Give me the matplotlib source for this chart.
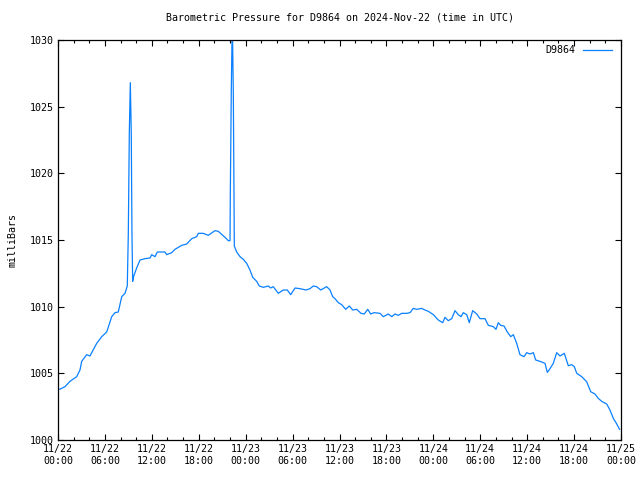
import matplotlib
matplotlib.use("Agg")
import matplotlib.pyplot as plt
import numpy as np

# hours since 2024-11-22 00:00 UTC
hours = [0.2, 0.9, 1.53, 2.39, 2.81, 3.03, 3.67, 4.09, 4.95, 5.59, 6.23, 6.87, 7.29, 7.71,
         8.15, 8.57, 8.86, 8.99, 9.12, 9.25, 9.37, 9.46, 9.55, 9.63, 10.06, 10.49, 11.13,
         11.77, 11.98, 12.41, 12.70, 13.68, 13.90, 14.54, 14.96, 15.82, 16.46, 17.10,
         17.74, 17.94, 18.58, 19.22, 20.08, 20.50, 21.36, 21.78, 22.0, 22.04, 22.16,
         22.29, 22.42, 22.51, 22.55, 22.85, 23.28, 23.70, 24.13, 24.55, 24.90, 25.41,
         25.74, 26.26, 26.89, 27.20, 27.53, 28.17, 28.81, 29.32, 29.76, 30.31, 30.95,
         31.72, 32.23, 32.65, 33.08, 33.60, 34.36, 34.79, 35.13, 35.42, 35.85, 36.28,
         36.79, 37.25, 37.69, 38.20, 38.75, 39.17, 39.61, 39.99, 40.41, 41.18, 41.60,
         42.24, 42.68, 43.10, 43.52, 43.96, 44.60, 45.02, 45.44, 45.87, 46.51, 46.93,
         47.36, 48.00, 48.63, 49.20, 49.49, 49.91, 50.35, 50.77, 51.19, 51.54, 51.83,
         52.27, 52.60, 53.03, 53.55, 53.97, 54.61, 55.03, 55.67, 56.01, 56.31, 56.62,
         57.04, 57.46, 57.90, 58.23, 58.66, 59.08, 59.59, 59.94, 60.36, 60.79, 61.09,
         61.64, 62.28, 62.58, 62.92, 63.34, 63.78, 64.20, 64.75, 65.26, 65.70, 66.03,
         66.34, 66.98, 67.61, 68.13, 68.67, 69.10, 69.53, 70.17, 70.59, 71.02, 71.36,
         71.82]
pressure = [1003.8, 1004.0, 1004.4, 1004.75, 1005.25, 1005.9, 1006.4, 1006.3, 1007.25,
            1007.75, 1008.1, 1009.25, 1009.55, 1009.6, 1010.75, 1011.0, 1011.55, 1015.4,
            1023.0, 1026.8, 1023.0, 1015.4, 1011.9, 1012.2, 1012.9, 1013.5, 1013.6,
            1013.65, 1013.9, 1013.75, 1014.1, 1014.1, 1013.9, 1014.05, 1014.3, 1014.6,
            1014.7, 1015.1, 1015.25, 1015.5, 1015.5, 1015.35, 1015.7, 1015.65, 1015.2,
            1014.95, 1014.95, 1018.6, 1026.1, 1031.5, 1026.1, 1018.4, 1014.55, 1014.1,
            1013.75, 1013.55, 1013.25, 1012.75, 1012.2, 1011.9, 1011.55, 1011.45,
            1011.55, 1011.4, 1011.5, 1011.0, 1011.25, 1011.25, 1010.9, 1011.4, 1011.35,
            1011.25, 1011.35, 1011.55, 1011.5, 1011.25, 1011.5, 1011.25, 1010.75,
            1010.6, 1010.3, 1010.15, 1009.8, 1010.05, 1009.75, 1009.8, 1009.5, 1009.45,
            1009.8, 1009.45, 1009.55, 1009.5, 1009.25, 1009.45, 1009.25, 1009.45,
            1009.35, 1009.5, 1009.5, 1009.55, 1009.87, 1009.8, 1009.87, 1009.75,
            1009.65, 1009.4, 1009.0, 1008.8, 1009.2, 1008.95, 1009.1, 1009.7, 1009.4,
            1009.25, 1009.55, 1009.4, 1008.8, 1009.7, 1009.45, 1009.1, 1009.1, 1008.6,
            1008.5, 1008.3, 1008.8, 1008.6, 1008.55, 1008.1, 1007.75, 1007.9, 1007.25,
            1006.4, 1006.25, 1006.55, 1006.45, 1006.55, 1006.0, 1005.9, 1005.75,
            1005.07, 1005.35, 1005.75, 1006.55, 1006.3, 1006.5, 1005.57, 1005.65,
            1005.5, 1005.0, 1004.75, 1004.37, 1003.62, 1003.45, 1003.12, 1002.9,
            1002.7, 1002.25, 1001.62, 1001.3, 1000.8]

xtick_hours = list(range(0, 73, 6))
xtick_labels = ["11/22\n00:00", "11/22\n06:00", "11/22\n12:00", "11/22\n18:00",
                "11/23\n00:00", "11/23\n06:00", "11/23\n12:00", "11/23\n18:00",
                "11/24\n00:00", "11/24\n06:00", "11/24\n12:00", "11/24\n18:00",
                "11/25\n00:00"]
ytick_vals = [1000, 1005, 1010, 1015, 1020, 1025, 1030]

plt.rcParams['font.family'] = ['DejaVu Sans Mono']
FS = 7.2

fig = plt.figure(figsize=(6.4, 4.8), dpi=100)
ax = fig.add_axes([58/640, 1-440/480, (621-58)/640, 400/480])
ax.plot(hours, pressure, color='#0a80ff', lw=0.9, label='D9864')
ax.set_xlim(0, 72)
ax.set_ylim(1000, 1030)
ax.set_xticks(xtick_hours)
ax.set_xticklabels(xtick_labels, fontsize=FS)
ax.set_xticks(np.arange(0, 73, 2), minor=True)
ax.set_yticks(ytick_vals)
ax.set_yticklabels([str(v) for v in ytick_vals], fontsize=FS)
ax.tick_params(which='both', direction='in', top=True, right=True, width=0.8, colors='black')
ax.tick_params(which='major', length=4.5, pad=3)
ax.tick_params(which='minor', length=2.3)
for s in ax.spines.values():
    s.set_linewidth(0.9)
ax.set_title('Barometric Pressure for D9864 on 2024-Nov-22 (time in UTC)', fontsize=FS, pad=14)
ax.set_ylabel('milliBars', fontsize=FS, labelpad=9)
leg = ax.legend(loc='upper right', bbox_to_anchor=(0.984, 0.987), frameon=False,
                fontsize=FS, markerfirst=False, handlelength=2.9,
                borderaxespad=0.0, handletextpad=0.8, borderpad=0.0)
fig.savefig('out.png', dpi=100)
